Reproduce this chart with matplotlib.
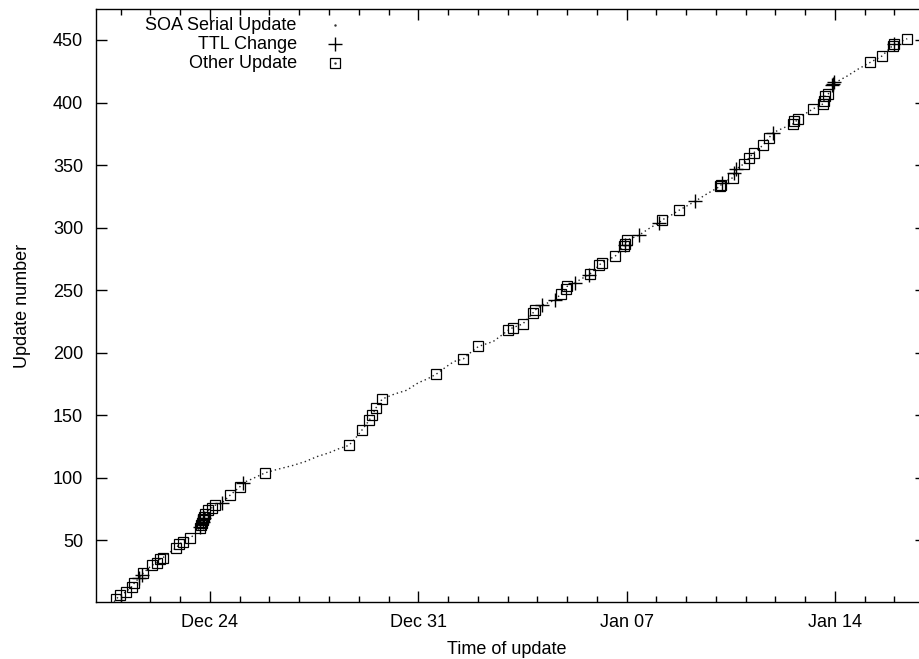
import numpy as np
import pandas as pd
import matplotlib
matplotlib.use("Agg")
import matplotlib.pyplot as plt
import matplotlib.dates as mdates
from matplotlib.lines import Line2D

# days after 2004-12-20 00:00 and the running update count
soa_day = [0.78, 0.84, 0.98, 1.18, 1.37, 1.46, 1.62, 1.76, 2.04, 2.21, 2.32, 2.41, 2.62, 2.86, 2.97,
           3.10, 3.33, 3.50, 3.66, 3.72, 3.77, 3.83, 3.94, 4.06, 4.17, 4.40, 4.67, 5.01, 5.10, 5.40,
           5.85, 6.30, 6.80, 7.20, 7.60, 8.00, 8.30, 8.67, 8.90, 9.10, 9.35, 9.45, 9.58, 9.79, 10.20,
           10.61, 11.00, 11.30, 11.61, 11.95, 12.20, 12.51, 12.75, 13.02, 13.52, 13.80, 14.02, 14.17,
           14.51, 14.86, 14.92, 15.15, 15.59, 15.79, 15.96, 16.00, 16.26, 16.77, 17.08, 17.16, 17.61,
           17.91, 17.94, 18.02, 18.42, 18.80, 19.10, 19.18, 19.50, 19.77, 20.30, 20.70, 21.14, 21.22,
           21.58, 21.64, 21.94, 22.12, 22.28, 22.59, 22.79, 22.93, 23.30, 23.60, 23.77, 24.00, 24.27,
           24.61, 24.66, 24.78, 24.94, 25.40, 25.80, 26.18, 26.57, 26.96, 27.43]
soa_num = [1, 3, 6, 9, 13, 16, 20, 24, 30, 32, 35, 36, 40, 44, 47, 49, 52, 55, 60, 64, 67, 71, 74, 76,
           78, 80, 86, 93, 96, 99, 104, 107, 110, 113, 117, 120, 123, 126, 132, 138, 146, 150, 156,
           163, 167, 170, 176, 179, 183, 189, 193, 195, 200, 205, 209, 214, 218, 220, 223, 232, 234,
           238, 242, 247, 251, 253, 256, 263, 270, 272, 277, 285, 287, 290, 294, 300, 304, 306, 310,
           314, 321, 327, 333, 336, 340, 346, 351, 356, 360, 366, 372, 376, 380, 383, 387, 391, 395,
           399, 405, 407, 415, 421, 427, 432, 437, 446, 451]

ttl_day = [1.62, 1.70, 3.68, 3.75, 3.80, 4.40, 5.10, 15.15, 15.59, 16.26, 16.75, 17.94, 18.42, 19.10,
           20.30, 21.22, 21.62, 21.66, 22.93, 24.90, 24.94, 24.98, 26.97]
ttl_num = [20, 22, 61, 65, 68, 80, 96, 238, 242, 256, 262, 286, 294, 304, 321, 336, 344, 347, 376,
           414, 415, 416, 447]

other_day = [0.84, 0.98, 1.18, 1.37, 1.46, 1.76, 2.04, 2.21, 2.32, 2.41, 2.86, 2.97, 3.10, 3.33, 3.66,
             3.70, 3.72, 3.75, 3.77, 3.80, 3.83, 3.94, 4.06, 4.17, 4.67, 5.01, 5.85, 8.67, 9.10, 9.35,
             9.45, 9.58, 9.79, 11.61, 12.51, 13.02, 14.02, 14.17, 14.51, 14.86, 14.92, 15.79, 15.96,
             16.00, 16.77, 17.08, 17.16, 17.61, 17.91, 17.94, 18.02, 19.18, 19.77, 21.14, 21.17, 21.58,
             21.94, 22.12, 22.28, 22.59, 22.79, 23.60, 23.63, 23.77, 24.27, 24.61, 24.63, 24.66, 24.78,
             26.18, 26.57, 26.94, 26.97, 27.43]
other_num = [3, 6, 9, 13, 16, 24, 30, 32, 35, 36, 44, 47, 49, 52, 60, 62, 64, 66, 67, 69, 71, 74, 76,
             78, 86, 93, 104, 126, 138, 146, 150, 156, 163, 183, 195, 205, 218, 220, 223, 232, 234,
             247, 251, 253, 263, 270, 272, 277, 285, 287, 290, 306, 314, 333, 334, 340, 351, 356, 360,
             366, 372, 383, 385, 387, 395, 399, 401, 405, 407, 432, 437, 445, 447, 451]

start = pd.Timestamp("2004-12-20")
def to_time(days):
    return start + pd.to_timedelta(np.array(days), unit="D")

plt.rcParams["font.family"] = ["Liberation Sans", "DejaVu Sans"]
plt.rcParams["font.size"] = 13

fig = plt.figure(figsize=(9.2, 6.59), dpi=100)
# plot box runs a little past the right edge of the canvas
ax = fig.add_axes([95.7 / 920, 1 - 601.7 / 659, (926 - 95.7) / 920, (601.7 - 9.3) / 659])

ax.plot(to_time(soa_day), soa_num, color="0.15", lw=1.0, ls=(0, (1, 2.2)))
ax.plot(to_time(ttl_day), ttl_num, ls="none", marker="+", ms=10, mew=1.0, color="black")
ax.plot(to_time(other_day), other_num, ls="none", marker="s", ms=7.4, mew=0.9,
        mfc="none", mec="black")

ax.set_xlim(to_time([0.16])[0], to_time([28.06])[0])
ax.set_ylim(1, 474.5)
ax.set_yticks(np.arange(50, 451, 50))

ax.xaxis.set_major_locator(mdates.DayLocator(bymonthday=[24, 31, 7, 14]))
ax.xaxis.set_major_formatter(mdates.DateFormatter("%b %d"))
ax.xaxis.set_minor_locator(mdates.DayLocator())

ax.tick_params(which="both", direction="in", top=True, right=True, width=1.0)
ax.tick_params(which="major", length=8)
ax.tick_params(which="minor", length=4)
ax.tick_params(axis="x", pad=9)
ax.tick_params(axis="y", pad=9)
for s in ax.spines.values():
    s.set_linewidth(1.0)

ax.set_xlabel("Time of update", labelpad=7)
ax.xaxis.label.set_x((507 - 95.7) / (926 - 95.7))
ax.set_ylabel("Update number", labelpad=16)

# key in the upper left, text right-aligned with the sample to its right
key_rows = [("SOA Serial Update", dict(marker=".", ms=1.5, color="0.2")),
            ("TTL Change", dict(marker="+", ms=10, mew=1.0, color="black")),
            ("Other Update", dict(marker="s", ms=7.4, mew=0.9, mfc="none", mec="black"))]
for i, (label, style) in enumerate(key_rows):
    yk = 1 - (25 + 19.2 * i) / 659
    fig.text(296.7 / 920, yk, label, ha="right", va="center")
    fig.add_artist(Line2D([335 / 920], [yk], ls="none", transform=fig.transFigure, **style))
    if label == "Other Update":
        fig.add_artist(Line2D([335 / 920], [yk], ls="none", marker=".", ms=1.5,
                              color="0.2", transform=fig.transFigure))

fig.savefig("out.png", dpi=100)
